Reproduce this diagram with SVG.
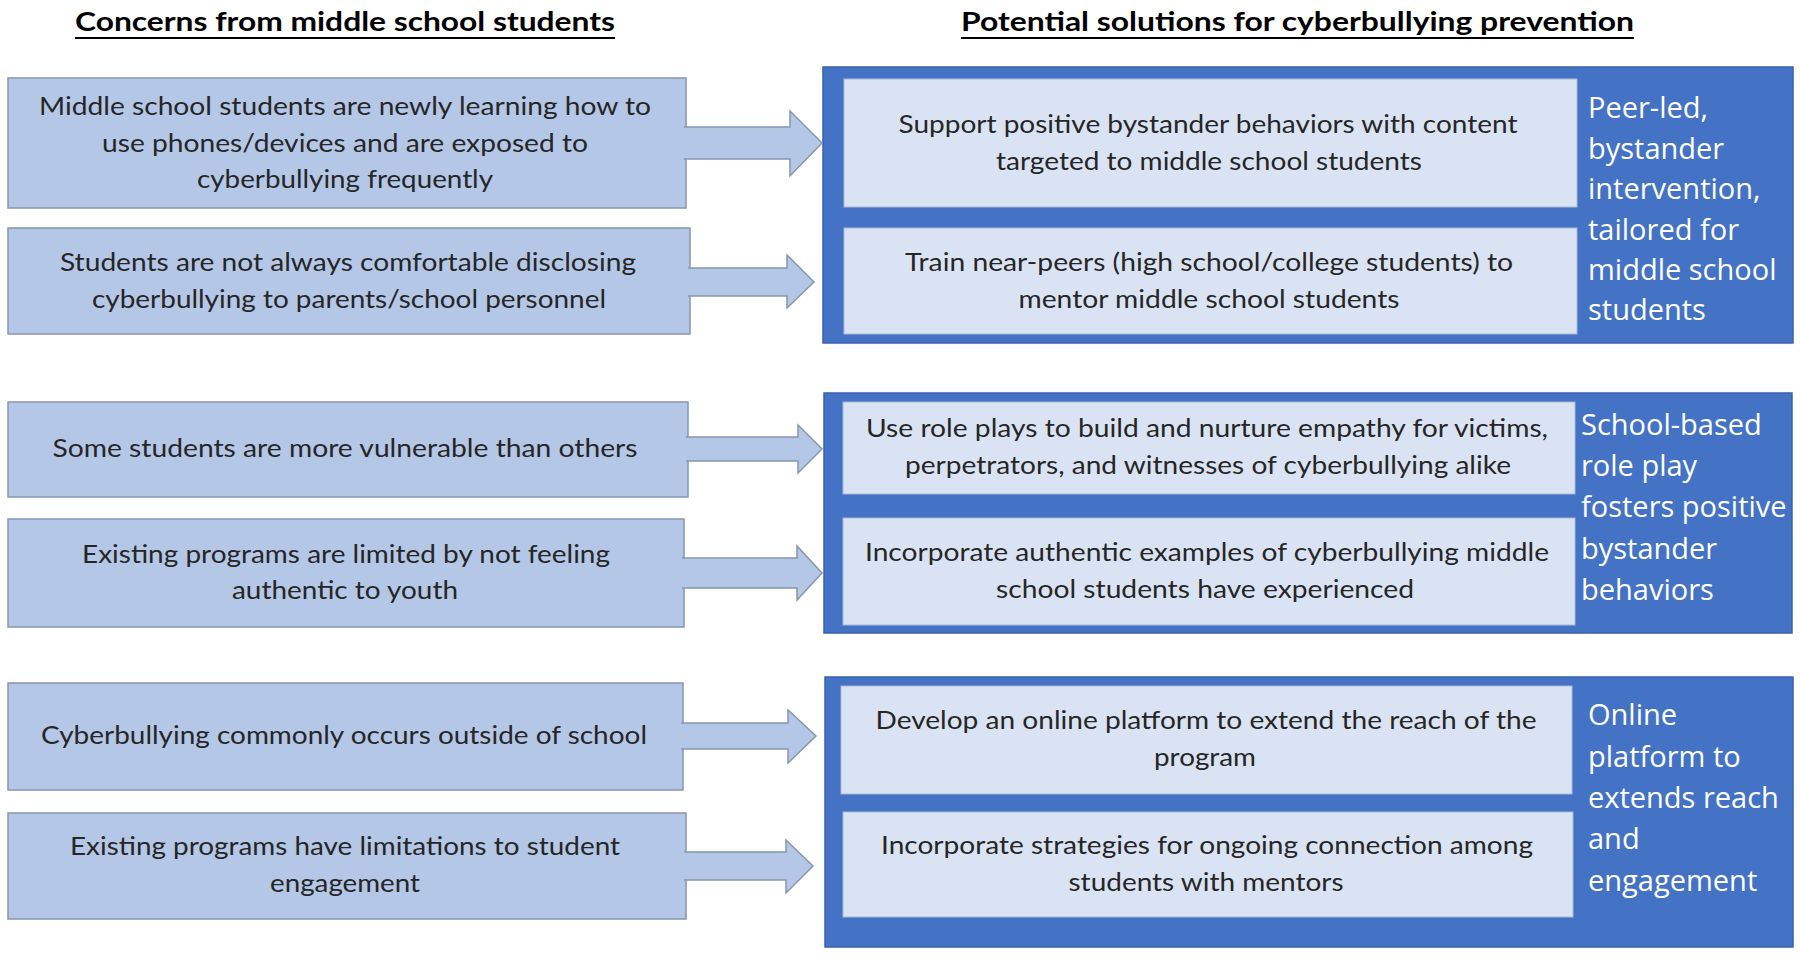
<svg xmlns="http://www.w3.org/2000/svg" width="1800" height="969" viewBox="0 0 1800 969">
<style>
.bg{fill:#ffffff}
.title{font-family:Lato,"Liberation Sans",sans-serif;font-weight:bold;font-size:27px;fill:#000}
.uline{stroke:#000;stroke-width:2}
.concern{fill:#B4C7E7;stroke:#8796AE;stroke-width:1.5}
.arrow{fill:#B4C7E7;stroke:#8796AE;stroke-width:1.5}
.cont{fill:#4472C4;stroke:#3A62AA;stroke-width:1.5}
.inner{fill:#DAE3F3;stroke:#A9B8D2;stroke-width:1}
.t{font-family:Lato,"Liberation Sans",sans-serif;font-size:25px;fill:#262626;text-anchor:middle}
.lab{font-family:"Open Sans","Liberation Sans",sans-serif;font-size:29px;fill:#ffffff}
</style>
<rect class="bg" x="0" y="0" width="1800" height="969"/>

<g id="title-left">
<text class="title" x="75" y="31" textLength="540" lengthAdjust="spacingAndGlyphs">Concerns from middle school students</text>
<line class="uline" x1="75" y1="38" x2="615" y2="38"/>
</g>
<g id="title-right">
<text class="title" x="961" y="31" textLength="673" lengthAdjust="spacingAndGlyphs">Potential solutions for cyberbullying prevention</text>
<line class="uline" x1="961" y1="38" x2="1634" y2="38"/>
</g>

<!-- Concern boxes -->
<g id="concern1">
<rect class="concern" x="8" y="78" width="678" height="130"/>
<text class="t" x="345" y="115" textLength="612" lengthAdjust="spacingAndGlyphs">Middle school students are newly learning how to</text>
<text class="t" x="345" y="152" textLength="486" lengthAdjust="spacingAndGlyphs">use phones/devices  and are exposed to</text>
<text class="t" x="345" y="188" textLength="296" lengthAdjust="spacingAndGlyphs">cyberbullying frequently</text>
</g>
<g id="concern2">
<rect class="concern" x="8" y="228" width="682" height="106"/>
<text class="t" x="348" y="271" textLength="576" lengthAdjust="spacingAndGlyphs">Students are not always comfortable disclosing</text>
<text class="t" x="349" y="308" textLength="514" lengthAdjust="spacingAndGlyphs">cyberbullying to parents/school personnel</text>
</g>
<g id="concern3">
<rect class="concern" x="8" y="402" width="680" height="95"/>
<text class="t" x="345" y="457" textLength="585" lengthAdjust="spacingAndGlyphs">Some students are more vulnerable than others</text>
</g>
<g id="concern4">
<rect class="concern" x="8" y="519" width="676" height="108"/>
<text class="t" x="346" y="563" textLength="528" lengthAdjust="spacingAndGlyphs">Existing programs are limited by not feeling</text>
<text class="t" x="345" y="599" textLength="226" lengthAdjust="spacingAndGlyphs">authentic to youth</text>
</g>
<g id="concern5">
<rect class="concern" x="8" y="683" width="675" height="107"/>
<text class="t" x="344" y="744" textLength="606" lengthAdjust="spacingAndGlyphs">Cyberbullying commonly occurs outside of school</text>
</g>
<g id="concern6">
<rect class="concern" x="8" y="813" width="678" height="106"/>
<text class="t" x="345" y="855" textLength="550" lengthAdjust="spacingAndGlyphs">Existing programs have limitations to student</text>
<text class="t" x="345" y="892" textLength="150" lengthAdjust="spacingAndGlyphs">engagement</text>
</g>

<!-- Solution containers -->
<g id="solutions1">
<rect class="cont" x="823" y="67" width="970" height="276"/>
<rect class="inner" x="844" y="79" width="733" height="128"/>
<text class="t" x="1208" y="133" textLength="619" lengthAdjust="spacingAndGlyphs">Support positive bystander behaviors with content</text>
<text class="t" x="1209" y="170" textLength="426" lengthAdjust="spacingAndGlyphs">targeted to middle school students</text>
<rect class="inner" x="844" y="228" width="733" height="106"/>
<text class="t" x="1209" y="271" textLength="608" lengthAdjust="spacingAndGlyphs">Train near-peers  (high school/college students) to</text>
<text class="t" x="1209" y="308" textLength="381" lengthAdjust="spacingAndGlyphs">mentor middle school students</text>
<text class="lab" x="1588" y="118">Peer-led,</text>
<text class="lab" x="1588" y="158.5">bystander</text>
<text class="lab" x="1588" y="199">intervention,</text>
<text class="lab" x="1588" y="239.5">tailored for</text>
<text class="lab" x="1588" y="280">middle school</text>
<text class="lab" x="1588" y="320">students</text>
</g>
<g id="solutions2">
<rect class="cont" x="824" y="393" width="968" height="240"/>
<rect class="inner" x="843" y="402" width="732" height="92"/>
<text class="t" x="1207" y="437" textLength="682" lengthAdjust="spacingAndGlyphs">Use role plays to build and nurture empathy for victims,</text>
<text class="t" x="1208" y="474" textLength="606" lengthAdjust="spacingAndGlyphs">perpetrators, and witnesses of cyberbullying alike</text>
<rect class="inner" x="843" y="518" width="732" height="107"/>
<text class="t" x="1207" y="561" textLength="684" lengthAdjust="spacingAndGlyphs">Incorporate authentic examples of cyberbullying middle</text>
<text class="t" x="1205" y="598" textLength="418" lengthAdjust="spacingAndGlyphs">school students have experienced</text>
<text class="lab" x="1581" y="435">School-based</text>
<text class="lab" x="1581" y="476">role play</text>
<text class="lab" x="1581" y="517">fosters positive</text>
<text class="lab" x="1581" y="559">bystander</text>
<text class="lab" x="1581" y="600">behaviors</text>
</g>
<g id="solutions3">
<rect class="cont" x="825" y="677" width="968" height="270"/>
<rect class="inner" x="841" y="686" width="731" height="108"/>
<text class="t" x="1206" y="729" textLength="661" lengthAdjust="spacingAndGlyphs">Develop an online platform to extend the reach of the</text>
<text class="t" x="1205" y="766" textLength="102" lengthAdjust="spacingAndGlyphs">program</text>
<rect class="inner" x="843" y="812" width="730" height="105"/>
<text class="t" x="1207" y="854" textLength="652" lengthAdjust="spacingAndGlyphs">Incorporate strategies for ongoing connection among</text>
<text class="t" x="1206" y="891" textLength="275" lengthAdjust="spacingAndGlyphs">students with mentors</text>
<text class="lab" x="1588" y="725">Online</text>
<text class="lab" x="1588" y="767">platform to</text>
<text class="lab" x="1588" y="808">extends reach</text>
<text class="lab" x="1588" y="849">and</text>
<text class="lab" x="1588" y="891">engagement</text>
</g>

<!-- Connectors -->
<g id="connectors">
<path class="arrow" d="M684,127 H790 V111 L822,143 L790,176 V159 H684"/>
<path class="arrow" d="M688,268 H787 V255 L814,282 L787,308 V296 H688"/>
<path class="arrow" d="M686,437 H798 V425 L822,449 L798,473 V461 H686"/>
<path class="arrow" d="M682,558 H797 V546 L822,573 L797,600 V588 H682"/>
<path class="arrow" d="M681,723 H788 V710 L816,736 L788,763 V749 H681"/>
<path class="arrow" d="M684,852 H786 V840 L813,866 L786,893 V880 H684"/>
</g>
</svg>
